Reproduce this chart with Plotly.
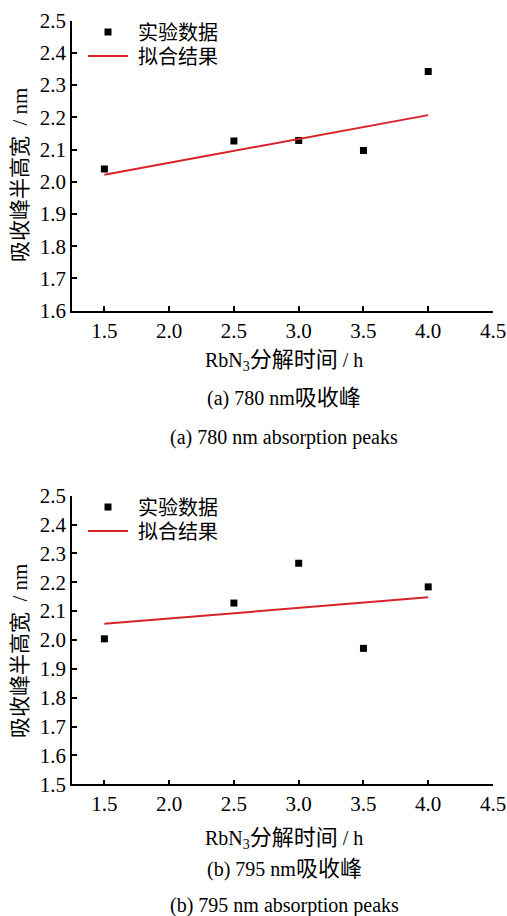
import plotly.graph_objects as go

# ---- data ----
time_h = [1.5, 2.5, 3.0, 3.5, 4.0]
fwhm_780 = [2.040, 2.127, 2.128, 2.097, 2.342]
fwhm_795 = [2.004, 2.128, 2.266, 1.971, 2.184]
fit_x = [1.5, 4.0]
fit_780 = [2.022, 2.207]
fit_795 = [2.056, 2.148]

x_ticks = [1.5, 2.0, 2.5, 3.0, 3.5, 4.0, 4.5]
y_ticks_a = [1.6, 1.7, 1.8, 1.9, 2.0, 2.1, 2.2, 2.3, 2.4, 2.5]
y_ticks_b = [1.5, 1.6, 1.7, 1.8, 1.9, 2.0, 2.1, 2.2, 2.3, 2.4, 2.5]

name_data = "实验数据"
name_fit = "拟合结果"


def cjk(s, size=22):
    return f'<span style="font-size:{size}px">{s}</span>'


y_title = cjk("吸收峰半高宽", 21) + "  / nm"
x_title = "RbN<sub>3</sub>" + cjk("分解时间") + " / h"
cap_a_cn = "(a) 780 nm" + cjk("吸收峰")
cap_a_en = "(a) 780 nm absorption peaks"
cap_b_cn = "(b) 795 nm" + cjk("吸收峰")
cap_b_en = "(b) 795 nm absorption peaks"

W, H = 507, 916
FONT = "Liberation Serif, Noto Sans CJK SC"
RED = "#d8222a"


def px_x(p):
    return p / W


def px_y(p):
    return 1 - p / H


fig = go.Figure()

fig.add_trace(go.Scatter(x=time_h, y=fwhm_780, mode="markers", name="\u00a0" + name_data,
                         marker=dict(symbol="square", size=7, color="black"),
                         xaxis="x", yaxis="y", legend="legend"))
fig.add_trace(go.Scatter(x=fit_x, y=fit_780, mode="lines", name="\u00a0" + name_fit,
                         line=dict(color=RED, width=2),
                         xaxis="x", yaxis="y", legend="legend2"))
fig.add_trace(go.Scatter(x=time_h, y=fwhm_795, mode="markers", name="\u00a0" + name_data,
                         marker=dict(symbol="square", size=7, color="black"),
                         xaxis="x2", yaxis="y2", legend="legend3"))
fig.add_trace(go.Scatter(x=fit_x, y=fit_795, mode="lines", name="\u00a0" + name_fit,
                         line=dict(color=RED, width=2),
                         xaxis="x2", yaxis="y2", legend="legend4"))

axis_common = dict(showline=True, linecolor="black", linewidth=1.5, mirror=False,
                   ticks="inside", ticklen=5, tickwidth=1.5, tickcolor="black",
                   showgrid=False, zeroline=False, automargin=False,
                   tickfont=dict(family=FONT, size=21, color="black"))

xdom = [px_x(72), px_x(493)]
fig.update_layout(
    xaxis=dict(domain=xdom, range=[1.25, 4.5], tickvals=x_ticks, tickformat=".1f",
               anchor="y", **axis_common),
    yaxis=dict(domain=[px_y(310.7), px_y(20.7)], range=[1.6, 2.5], tickvals=y_ticks_a,
               tickformat=".1f", anchor="x", **axis_common),
    xaxis2=dict(domain=xdom, range=[1.25, 4.5], tickvals=x_ticks, tickformat=".1f",
                anchor="y2", **axis_common),
    yaxis2=dict(domain=[px_y(784.3), px_y(495.7)], range=[1.5, 2.5], tickvals=y_ticks_b,
                tickformat=".1f", anchor="x2", **axis_common),
)

leg_common = dict(font=dict(family=FONT, size=20, color="black"), bgcolor="rgba(0,0,0,0)",
                  itemwidth=40, tracegroupgap=0, xanchor="left", yanchor="middle",
                  xref="paper", yref="paper")
fig.update_layout(
    legend=dict(x=px_x(83), y=px_y(32), **leg_common),
    legend2=dict(x=px_x(83), y=px_y(56), **leg_common),
    legend3=dict(x=px_x(83), y=px_y(507), **leg_common),
    legend4=dict(x=px_x(83), y=px_y(531), **leg_common),
)

annots = []
for yc in (175, 651):
    annots.append(dict(text=y_title, x=px_x(20), y=px_y(yc), xref="paper", yref="paper",
                       textangle=-90, showarrow=False, xanchor="center", yanchor="middle",
                       font=dict(family=FONT, size=21, color="black")))
for (yc, txt) in [(360, x_title), (398, cap_a_cn), (437, cap_a_en),
                  (838, x_title), (868, cap_b_cn), (905, cap_b_en)]:
    annots.append(dict(text=txt, x=px_x(284), y=px_y(yc), xref="paper", yref="paper",
                       showarrow=False, xanchor="center", yanchor="middle",
                       font=dict(family=FONT, size=20, color="black")))

fig.update_layout(
    annotations=annots,
    width=W, height=H, autosize=False,
    margin=dict(l=0, r=0, t=0, b=0),
    paper_bgcolor="white", plot_bgcolor="white",
    showlegend=True,
)

fig.write_html("out.html")
